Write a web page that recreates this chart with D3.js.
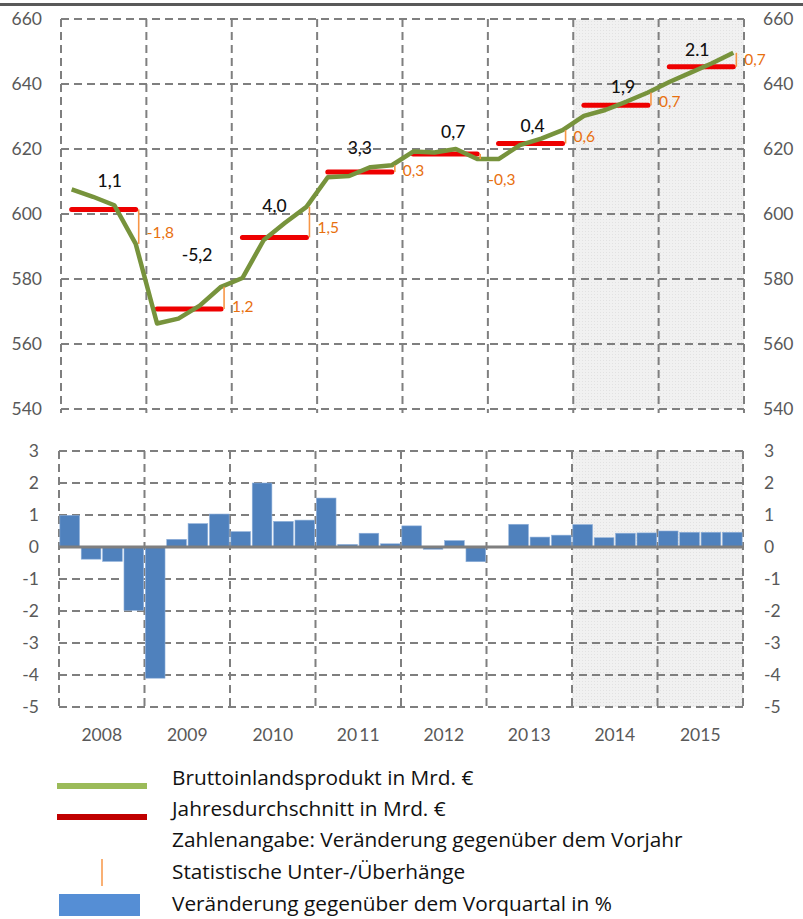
<!DOCTYPE html>
<html>
<head>
<meta charset="utf-8">
<script src="https://cdn.jsdelivr.net/npm/d3@7"></script>
<style>
  html, body { margin: 0; padding: 0; background: #fff; }
  svg { display: block; }
  text { font-family: Lato, "Open Sans", sans-serif; }
</style>
</head>
<body>
<svg id="chart" width="803" height="919"></svg>
<script>
// ---------- DATA ----------
const years = ["2008", "2009", "2010", "2011", "2012", "2013", "2014", "2015"];
const yearLabels = ["2008", "2009", "2010", "20\u200911", "2012", "20\u200913", "2014", "2015"];
const quarters = years.flatMap(y => ["Q1", "Q2", "Q3", "Q4"].map(q => y + q));
// Bruttoinlandsprodukt in Mrd. € (quarterly)
const gdp = [607.6, 605.3, 602.7, 590.8, 566.3, 567.8, 571.8, 577.6,
             580.3, 592.0, 597.3, 602.2, 611.3, 611.7, 614.4, 615.0,
             619.2, 618.9, 620.0, 616.9, 616.9, 621.2, 623.2, 625.8,
             630.2, 632.0, 634.6, 637.4, 640.6, 643.5, 646.4, 649.6];
// Jahresdurchschnitt in Mrd. €
const annualAvg = [601.4, 570.8, 592.8, 612.9, 618.5, 621.7, 633.5, 645.3];
// Veränderung gegenüber dem Vorjahr
const annualChange = ["1,1", "-5,2", "4,0", "3,3", "0,7", "0,4", "1,9", "2.1"];
// Statistische Unter-/Überhänge
const overhang = ["-1,8", "1,2", "1,5", "0,3", "-0,3", "0,6", "0,7", "0,7"];
// Veränderung gegenüber dem Vorquartal in %
const qoq = [0.99, -0.38, -0.45, -1.98, -4.10, 0.24, 0.73, 1.03,
             0.48, 2.00, 0.80, 0.84, 1.53, 0.08, 0.43, 0.10,
             0.66, -0.07, 0.20, -0.46, 0.00, 0.71, 0.31, 0.37,
             0.70, 0.29, 0.43, 0.44, 0.50, 0.46, 0.46, 0.46];
const topTicks = [540, 560, 580, 600, 620, 640, 660];
const bottomTicks = [-5, -4, -3, -2, -1, 0, 1, 2, 3];
const forecastYears = ["2014", "2015"];
const legendItems = [
  "Bruttoinlandsprodukt in Mrd. €",
  "Jahresdurchschnitt in Mrd. €",
  "Zahlenangabe: Veränderung gegenüber dem Vorjahr",
  "Statistische Unter-/Überhänge",
  "Veränderung gegenüber dem Vorquartal in %"
];

// ---------- LAYOUT ----------
const svg = d3.select("#chart");
const grey = "#7f7f7f";
const tickColor = "#595959";
const dash = "8,5";

// top rule
svg.append("rect").attr("x", 0).attr("y", 3).attr("width", 803).attr("height", 3).attr("fill", "#595959");

// pattern for forecast shading
const defs = svg.append("defs");
const pat = defs.append("pattern").attr("id", "dots").attr("width", 3).attr("height", 3)
  .attr("patternUnits", "userSpaceOnUse");
pat.append("rect").attr("width", 3).attr("height", 3).attr("fill", "#f1f1f1");
pat.append("rect").attr("width", 1).attr("height", 1).attr("fill", "#e2e2e2");

// ---- top panel ----
const T = { x0: 61, x1: 744, y0: 19, y1: 409 };
const xYear = d3.scaleBand().domain(years).range([T.x0, T.x1]);
const xQ = d3.scaleBand().domain(quarters).range([T.x0, T.x1]);
const yTop = d3.scaleLinear().domain([540, 660]).range([T.y1, T.y0]);
const qc = q => xQ(q) + xQ.bandwidth() / 2;

const topG = svg.append("g");
topG.append("rect")
  .attr("x", xYear(forecastYears[0])).attr("y", T.y0)
  .attr("width", xYear.bandwidth() * forecastYears.length).attr("height", T.y1 - T.y0)
  .attr("fill", "url(#dots)");

topG.selectAll("line.h").data(topTicks).join("line")
  .attr("x1", T.x0).attr("x2", T.x1)
  .attr("y1", d => yTop(d)).attr("y2", d => yTop(d))
  .attr("stroke", grey).attr("stroke-width", 2).attr("stroke-dasharray", dash);
const yearEdges = years.map(y => xYear(y)).concat([T.x1]);
topG.selectAll("line.v").data(yearEdges).join("line")
  .attr("x1", d => d).attr("x2", d => d)
  .attr("y1", T.y0).attr("y2", T.y1 + 4)
  .attr("stroke", grey).attr("stroke-width", 2).attr("stroke-dasharray", dash);

// axes labels
const axL = d3.axisLeft(yTop).tickValues(topTicks).tickSize(0).tickPadding(19);
const gL = topG.append("g").attr("transform", `translate(${T.x0},0)`).call(axL);
const axR = d3.axisRight(yTop).tickValues(topTicks).tickSize(0).tickPadding(19);
const gR = topG.append("g").attr("transform", `translate(${T.x1},0)`).call(axR);
[gL, gR].forEach(g => {
  g.select(".domain").remove();
  g.selectAll("text").attr("font-size", 17.5).attr("fill", tickColor)
    .style("font-family", "Lato, sans-serif");
});

// red annual averages
topG.selectAll("line.avg").data(years).join("line")
  .attr("x1", (y, i) => qc(quarters[i * 4]))
  .attr("x2", (y, i) => qc(quarters[i * 4 + 3]))
  .attr("y1", (y, i) => yTop(annualAvg[i])).attr("y2", (y, i) => yTop(annualAvg[i]))
  .attr("stroke", "#ee0000").attr("stroke-width", 5).attr("stroke-linecap", "round");

// green GDP line
const line = d3.line().x((d, i) => qc(quarters[i])).y(d => yTop(d));
topG.append("path").datum(gdp).attr("d", line)
  .attr("fill", "none").attr("stroke", "#77933c").attr("stroke-width", 4.5)
  .attr("stroke-linejoin", "round");

// orange overhang ticks
topG.selectAll("line.oh").data(years).join("line")
  .attr("x1", (y, i) => qc(quarters[i * 4 + 3]) + 3)
  .attr("x2", (y, i) => qc(quarters[i * 4 + 3]) + 3)
  .attr("y1", (y, i) => yTop(annualAvg[i]))
  .attr("y2", (y, i) => yTop(gdp[i * 4 + 3]))
  .attr("stroke", "#f79646").attr("stroke-width", 1.6);

// overhang labels (pixel offsets relative to annual average line)
const ohDy = [23, -2, -10, -2, 26, -7, -4, -7];
topG.selectAll("text.oh").data(overhang).join("text")
  .attr("x", (d, i) => qc(quarters[i * 4 + 3]) + 11)
  .attr("y", (d, i) => yTop(annualAvg[i]) + ohDy[i])
  .attr("dy", "0.35em")
  .attr("font-size", 15.5).attr("fill", "#e8700f")
  .text(d => d);

// annual change labels
const chDx = [6, 8, 0, 0, 8, 2, 7, -4];
const chDy = [-29, -54, -32, -24, -22, -18, -18, -17];
topG.selectAll("text.ch").data(annualChange).join("text")
  .attr("x", (d, i) => xYear(years[i]) + xYear.bandwidth() / 2 + chDx[i])
  .attr("y", (d, i) => yTop(annualAvg[i]) + chDy[i])
  .attr("dy", "0.35em").attr("text-anchor", "middle")
  .attr("font-size", 17.5).attr("fill", "#111").attr("font-weight", 500)
  .text(d => d);

// ---- bottom panel ----
const B = { x0: 59, x1: 743, y0: 451, y1: 707 };
const xYearB = d3.scaleBand().domain(years).range([B.x0, B.x1]);
const xQB = d3.scaleBand().domain(quarters).range([B.x0, B.x1]).paddingInner(0.08).paddingOuter(0.04);
const yB = d3.scaleLinear().domain([-5, 3]).range([B.y1, B.y0]);

const botG = svg.append("g");
botG.append("rect")
  .attr("x", xYearB(forecastYears[0])).attr("y", B.y0)
  .attr("width", xYearB.bandwidth() * forecastYears.length).attr("height", B.y1 - B.y0)
  .attr("fill", "url(#dots)");

botG.selectAll("line.h").data(bottomTicks.filter(d => d !== 0)).join("line")
  .attr("x1", B.x0).attr("x2", B.x1)
  .attr("y1", d => yB(d)).attr("y2", d => yB(d))
  .attr("stroke", grey).attr("stroke-width", 2).attr("stroke-dasharray", dash);
const yearEdgesB = years.map(y => xYearB(y)).concat([B.x1]);
botG.selectAll("line.v").data(yearEdgesB).join("line")
  .attr("x1", d => d).attr("x2", d => d)
  .attr("y1", B.y0).attr("y2", B.y1)
  .attr("stroke", grey).attr("stroke-width", 2).attr("stroke-dasharray", dash);

botG.selectAll("rect.bar").data(qoq).join("rect")
  .attr("x", (d, i) => xQB(quarters[i]))
  .attr("width", xQB.bandwidth())
  .attr("y", d => yB(Math.max(0, d)))
  .attr("height", d => Math.abs(yB(d) - yB(0)))
  .attr("fill", "#4f81bd").attr("stroke", "#8fb0da").attr("stroke-width", 0.6);

botG.append("line").attr("x1", B.x0).attr("x2", B.x1)
  .attr("y1", yB(0)).attr("y2", yB(0))
  .attr("stroke", grey).attr("stroke-width", 3);

const axLB = d3.axisLeft(yB).tickValues(bottomTicks).tickSize(0).tickPadding(20)
  .tickFormat(d => d < 0 ? "-" + Math.abs(d) : d);
const axRB = d3.axisRight(yB).tickValues(bottomTicks).tickSize(0).tickPadding(21)
  .tickFormat(d => d < 0 ? "-" + Math.abs(d) : d);
const gLB = botG.append("g").attr("transform", `translate(${B.x0},0)`).call(axLB);
const gRB = botG.append("g").attr("transform", `translate(${B.x1},0)`).call(axRB);
[gLB, gRB].forEach(g => {
  g.select(".domain").remove();
  g.selectAll("text").attr("font-size", 17.5).attr("fill", tickColor)
    .style("font-family", "Lato, sans-serif");
});

// year labels
const axX = d3.axisBottom(xYearB).tickSize(0).tickPadding(0)
  .tickFormat((d, i) => yearLabels[i]);
const gX = botG.append("g").attr("transform", `translate(0,${B.y1 + 28})`).call(axX);
gX.select(".domain").remove();
gX.selectAll("text").attr("font-size", 17.5).attr("fill", tickColor).attr("dy", "0.35em")
  .style("font-family", "Lato, sans-serif");

// ---- legend ----
const lg = svg.append("g");
const legY = [778, 809, 840, 872, 904];
lg.append("rect").attr("x", 57).attr("y", 783).attr("width", 90).attr("height", 6).attr("fill", "#9bbb59");
lg.append("rect").attr("x", 57).attr("y", 814).attr("width", 90).attr("height", 6).attr("fill", "#c00000");
lg.append("line").attr("x1", 102).attr("x2", 102).attr("y1", 859).attr("y2", 886)
  .attr("stroke", "#f79646").attr("stroke-width", 1.5);
lg.append("rect").attr("x", 59).attr("y", 894).attr("width", 81).attr("height", 22).attr("fill", "#558ed5");
const legTexts = lg.selectAll("text").data(legendItems).join("text")
  .attr("x", 172).attr("y", (d, i) => legY[i]).attr("dy", "0.35em")
  .attr("font-size", 19).attr("fill", "#111")
  .style("font-family", "'Open Sans', sans-serif")
  .text(d => d);
// fit legend font so the longest item spans about 511px as in the reference
const longest = legTexts.filter((d, i) => i === 2).node().getComputedTextLength();
const fs = Math.max(16, Math.min(21, 19 * 511 / longest));
legTexts.attr("font-size", fs);
</script>
</body>
</html>
